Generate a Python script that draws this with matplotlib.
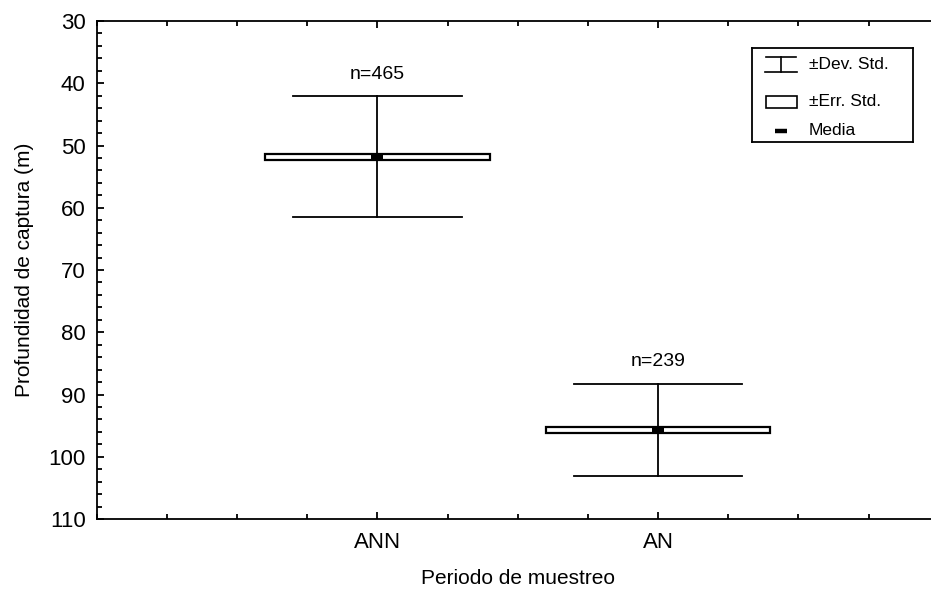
"""
Profundidad de captura por periodo de muestreo: media, +-err. std y +-dev. std
"""

import matplotlib
matplotlib.use('Agg')
import matplotlib.pyplot as plt
from matplotlib.patches import Rectangle
from matplotlib.ticker import MultipleLocator, FixedLocator, NullFormatter

plt.rcParams['font.family'] = ['Liberation Sans', 'DejaVu Sans']

periodos = ['ANN', 'AN']
pos = [1, 2]
media = [51.8, 95.7]
dev_std = [9.7, 7.4]
err_std = [0.45, 0.50]
n_obs = [465, 239]

fig = plt.figure(figsize=(9.31, 5.92), dpi=100)
ax = fig.add_axes([0.1039, 0.1233, 0.9044, 0.8412])

lw = 1.3
box_w = 0.4
cap_w = 0.3
for x, m, sd, se, n in zip(pos, media, dev_std, err_std, n_obs):
    # dev. std: linea vertical y topes
    ax.plot([x, x], [m - sd, m + sd], color='k', lw=lw, zorder=2)
    ax.plot([x - cap_w, x + cap_w], [m - sd, m - sd], color='k', lw=lw, zorder=2)
    ax.plot([x - cap_w, x + cap_w], [m + sd, m + sd], color='k', lw=lw, zorder=2)
    # err. std: caja blanca
    ax.add_patch(Rectangle((x - box_w, m - se), 2 * box_w, 2 * se,
                           facecolor='white', edgecolor='k', lw=1.6, zorder=3))
    # media
    ax.plot([x], [m], marker='_', color='k', ms=9, mew=3.2, zorder=4)
    ax.text(x, m - sd - 2.2, f'n={n}', ha='center', va='bottom', fontsize=14)

ax.set_xlim(0, 3)
ax.set_ylim(110, 30)
ax.xaxis.set_major_locator(FixedLocator(pos))
ax.set_xticklabels(periodos)
ax.xaxis.set_minor_locator(MultipleLocator(0.25))
ax.xaxis.set_minor_formatter(NullFormatter())
ax.yaxis.set_major_locator(MultipleLocator(10))
ax.yaxis.set_minor_locator(MultipleLocator(2))

ax.tick_params(which='both', direction='in', top=True, right=False, width=1.3, labelsize=16)
ax.tick_params(which='major', length=5)
ax.tick_params(which='minor', length=3.5)
ax.tick_params(axis='y', pad=8)
ax.tick_params(axis='x', pad=9)
for s in ax.spines.values():
    s.set_linewidth(1.3)
ax.spines['right'].set_visible(False)

ax.set_xlabel('Periodo de muestreo', fontsize=15, labelpad=12)
ax.set_ylabel('Profundidad de captura (m)', fontsize=15, labelpad=10)

# leyenda dibujada a mano en su propio eje
lg = fig.add_axes([751.7 / 931, 1 - 141.7 / 592, (913.3 - 751.7) / 931, (141.7 - 48.3) / 592])
lg.set_xlim(0, 162)
lg.set_ylim(93, 0)
lg.set_xticks([])
lg.set_yticks([])
for s in lg.spines.values():
    s.set_linewidth(1.3)
lg.plot([14, 44], [9, 9], color='k', lw=1.2)
lg.plot([13, 45], [24, 24], color='k', lw=1.2)
lg.plot([29, 29], [9, 24], color='k', lw=1.2)
lg.add_patch(Rectangle((14, 47), 31, 12, facecolor='white', edgecolor='k', lw=1.2))
lg.plot([29], [82], marker='_', color='k', ms=8, mew=3.2)
for y, t in zip([16.5, 52.5, 82], ['±Dev. Std.', '±Err. Std.', 'Media']):
    lg.text(57, y, t, va='center', ha='left', fontsize=12.5)

fig.savefig('out.png', dpi=100)
